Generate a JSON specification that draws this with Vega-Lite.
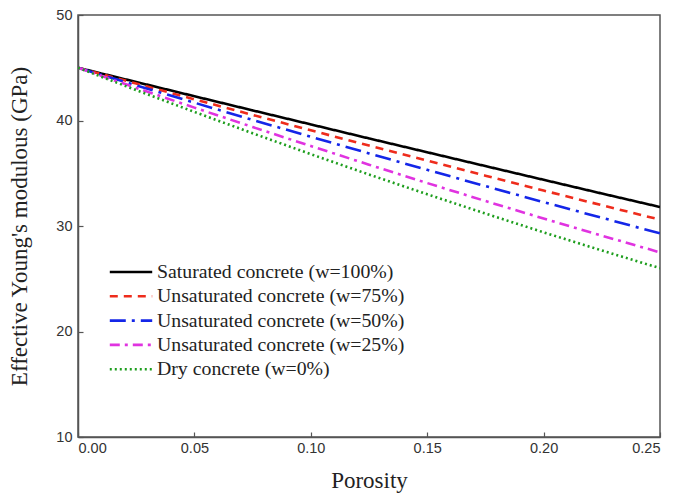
{
  "$schema": "https://vega.github.io/schema/vega-lite/v6.json",
  "width": 582,
  "height": 422,
  "autosize": {"type": "none"},
  "padding": {"left": 78, "top": 15, "right": 13, "bottom": 58},
  "background": "white",
  "config": {
    "view": {"stroke": "#555", "strokeWidth": 1.5},
    "axis": {"grid": false, "domainColor": "#555", "domainWidth": 1.5, "tickColor": "#555", "tickWidth": 1.2, "tickSize": -5, "labelFont": "Liberation Sans", "labelFontSize": 14.5, "labelColor": "#333", "titleFont": "Liberation Serif", "titleFontSize": 23, "titleFontWeight": "normal", "titleColor": "#222"},
    "legend": {"labelFont": "Liberation Serif"}
  },
  "data": {"values": [
    {"p": 0, "E": 45, "s": "Saturated concrete (w=100%)"},
    {"p": 0.025, "E": 43.65, "s": "Saturated concrete (w=100%)"},
    {"p": 0.05, "E": 42.30, "s": "Saturated concrete (w=100%)"},
    {"p": 0.075, "E": 40.96, "s": "Saturated concrete (w=100%)"},
    {"p": 0.1, "E": 39.63, "s": "Saturated concrete (w=100%)"},
    {"p": 0.125, "E": 38.30, "s": "Saturated concrete (w=100%)"},
    {"p": 0.15, "E": 36.99, "s": "Saturated concrete (w=100%)"},
    {"p": 0.175, "E": 35.68, "s": "Saturated concrete (w=100%)"},
    {"p": 0.2, "E": 34.38, "s": "Saturated concrete (w=100%)"},
    {"p": 0.225, "E": 33.08, "s": "Saturated concrete (w=100%)"},
    {"p": 0.25, "E": 31.80, "s": "Saturated concrete (w=100%)"},
    {"p": 0, "E": 45, "s": "Unsaturated concrete (w=75%)"},
    {"p": 0.025, "E": 43.50, "s": "Unsaturated concrete (w=75%)"},
    {"p": 0.05, "E": 42.01, "s": "Unsaturated concrete (w=75%)"},
    {"p": 0.075, "E": 40.53, "s": "Unsaturated concrete (w=75%)"},
    {"p": 0.1, "E": 39.07, "s": "Unsaturated concrete (w=75%)"},
    {"p": 0.125, "E": 37.62, "s": "Unsaturated concrete (w=75%)"},
    {"p": 0.15, "E": 36.19, "s": "Unsaturated concrete (w=75%)"},
    {"p": 0.175, "E": 34.77, "s": "Unsaturated concrete (w=75%)"},
    {"p": 0.2, "E": 33.36, "s": "Unsaturated concrete (w=75%)"},
    {"p": 0.225, "E": 31.97, "s": "Unsaturated concrete (w=75%)"},
    {"p": 0.25, "E": 30.60, "s": "Unsaturated concrete (w=75%)"},
    {"p": 0, "E": 45, "s": "Unsaturated concrete (w=50%)"},
    {"p": 0.025, "E": 43.33, "s": "Unsaturated concrete (w=50%)"},
    {"p": 0.05, "E": 41.69, "s": "Unsaturated concrete (w=50%)"},
    {"p": 0.075, "E": 40.06, "s": "Unsaturated concrete (w=50%)"},
    {"p": 0.1, "E": 38.46, "s": "Unsaturated concrete (w=50%)"},
    {"p": 0.125, "E": 36.88, "s": "Unsaturated concrete (w=50%)"},
    {"p": 0.15, "E": 35.32, "s": "Unsaturated concrete (w=50%)"},
    {"p": 0.175, "E": 33.78, "s": "Unsaturated concrete (w=50%)"},
    {"p": 0.2, "E": 32.26, "s": "Unsaturated concrete (w=50%)"},
    {"p": 0.225, "E": 30.78, "s": "Unsaturated concrete (w=50%)"},
    {"p": 0.25, "E": 29.30, "s": "Unsaturated concrete (w=50%)"},
    {"p": 0, "E": 45, "s": "Unsaturated concrete (w=25%)"},
    {"p": 0.025, "E": 43.09, "s": "Unsaturated concrete (w=25%)"},
    {"p": 0.05, "E": 41.22, "s": "Unsaturated concrete (w=25%)"},
    {"p": 0.075, "E": 39.38, "s": "Unsaturated concrete (w=25%)"},
    {"p": 0.1, "E": 37.58, "s": "Unsaturated concrete (w=25%)"},
    {"p": 0.125, "E": 35.81, "s": "Unsaturated concrete (w=25%)"},
    {"p": 0.15, "E": 34.07, "s": "Unsaturated concrete (w=25%)"},
    {"p": 0.175, "E": 32.37, "s": "Unsaturated concrete (w=25%)"},
    {"p": 0.2, "E": 30.71, "s": "Unsaturated concrete (w=25%)"},
    {"p": 0.225, "E": 29.09, "s": "Unsaturated concrete (w=25%)"},
    {"p": 0.25, "E": 27.50, "s": "Unsaturated concrete (w=25%)"},
    {"p": 0, "E": 45, "s": "Dry concrete (w=0%)"},
    {"p": 0.025, "E": 42.88, "s": "Dry concrete (w=0%)"},
    {"p": 0.05, "E": 40.81, "s": "Dry concrete (w=0%)"},
    {"p": 0.075, "E": 38.79, "s": "Dry concrete (w=0%)"},
    {"p": 0.1, "E": 36.81, "s": "Dry concrete (w=0%)"},
    {"p": 0.125, "E": 34.88, "s": "Dry concrete (w=0%)"},
    {"p": 0.15, "E": 33.01, "s": "Dry concrete (w=0%)"},
    {"p": 0.175, "E": 31.18, "s": "Dry concrete (w=0%)"},
    {"p": 0.2, "E": 29.40, "s": "Dry concrete (w=0%)"},
    {"p": 0.225, "E": 27.68, "s": "Dry concrete (w=0%)"},
    {"p": 0.25, "E": 26.00, "s": "Dry concrete (w=0%)"}
  ]},
  "mark": {"type": "line", "strokeWidth": 2.6, "clip": true},
  "encoding": {
    "x": {"field": "p", "type": "quantitative", "title": "Porosity",
      "scale": {"domain": [0, 0.25], "nice": false},
      "axis": {"values": [0, 0.05, 0.1, 0.15, 0.2, 0.25], "format": ".2f", "labelPadding": 9, "titlePadding": 15}},
    "y": {"field": "E", "type": "quantitative", "title": "Effective Young's modulous (GPa)",
      "scale": {"domain": [10, 50], "nice": false},
      "axis": {"values": [10, 20, 30, 40, 50], "labelPadding": 11, "titlePadding": 24}},
    "color": {"field": "s", "type": "nominal", "sort": null,
      "scale": {"domain": ["Saturated concrete (w=100%)", "Unsaturated concrete (w=75%)", "Unsaturated concrete (w=50%)", "Unsaturated concrete (w=25%)", "Dry concrete (w=0%)"],
        "range": ["#000000", "#ee2c1c", "#1426e8", "#e033e0", "#1e9e1e"]},
      "legend": {"title": null, "orient": "none", "legendX": 30, "legendY": 245, "symbolType": "stroke", "symbolSize": 1800, "symbolStrokeWidth": 2.6, "clipHeight": 24, "rowPadding": 0.3, "labelFont": "Liberation Serif", "labelFontSize": 19.8, "labelColor": "#222", "labelOffset": 3, "labelLimit": 400}},
    "strokeDash": {"field": "s", "type": "nominal", "sort": null,
      "scale": {"domain": ["Saturated concrete (w=100%)", "Unsaturated concrete (w=75%)", "Unsaturated concrete (w=50%)", "Unsaturated concrete (w=25%)", "Dry concrete (w=0%)"],
        "range": [[1, 0], [8, 6], [16, 6, 3, 6], [10, 5, 3, 5], [2, 3]]}}
  }
}
